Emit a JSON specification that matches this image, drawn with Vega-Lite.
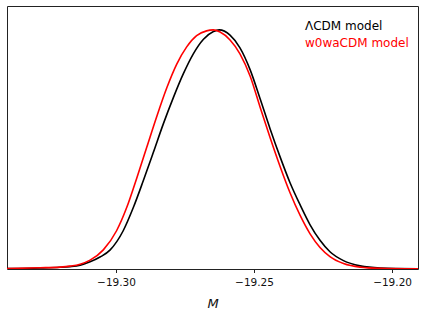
{
  "$schema": "https://vega.github.io/schema/vega-lite/v6.json",
  "width": 411,
  "height": 263,
  "autosize": "none",
  "padding": {"left": 7, "top": 6, "right": 6, "bottom": 47},
  "background": "white",
  "config": {
    "view": {"stroke": "#222222", "strokeWidth": 1},
    "font": "DejaVu Sans"
  },
  "data": {
    "values": [
      {"M": -19.3395, "P": 0.002, "model": "ΛCDM model"},
      {"M": -19.3275, "P": 0.004, "model": "ΛCDM model"},
      {"M": -19.3203, "P": 0.007, "model": "ΛCDM model"},
      {"M": -19.3167, "P": 0.010, "model": "ΛCDM model"},
      {"M": -19.3130, "P": 0.016, "model": "ΛCDM model"},
      {"M": -19.3094, "P": 0.030, "model": "ΛCDM model"},
      {"M": -19.3058, "P": 0.050, "model": "ΛCDM model"},
      {"M": -19.3022, "P": 0.079, "model": "ΛCDM model"},
      {"M": -19.2974, "P": 0.160, "model": "ΛCDM model"},
      {"M": -19.2937, "P": 0.258, "model": "ΛCDM model"},
      {"M": -19.2901, "P": 0.370, "model": "ΛCDM model"},
      {"M": -19.2865, "P": 0.487, "model": "ΛCDM model"},
      {"M": -19.2829, "P": 0.606, "model": "ΛCDM model"},
      {"M": -19.2792, "P": 0.718, "model": "ΛCDM model"},
      {"M": -19.2756, "P": 0.817, "model": "ΛCDM model"},
      {"M": -19.2720, "P": 0.900, "model": "ΛCDM model"},
      {"M": -19.2684, "P": 0.960, "model": "ΛCDM model"},
      {"M": -19.2647, "P": 0.993, "model": "ΛCDM model"},
      {"M": -19.2626, "P": 1.0, "model": "ΛCDM model"},
      {"M": -19.2587, "P": 0.978, "model": "ΛCDM model"},
      {"M": -19.2551, "P": 0.925, "model": "ΛCDM model"},
      {"M": -19.2514, "P": 0.833, "model": "ΛCDM model"},
      {"M": -19.2478, "P": 0.712, "model": "ΛCDM model"},
      {"M": -19.2442, "P": 0.587, "model": "ΛCDM model"},
      {"M": -19.2406, "P": 0.470, "model": "ΛCDM model"},
      {"M": -19.2370, "P": 0.362, "model": "ΛCDM model"},
      {"M": -19.2333, "P": 0.268, "model": "ΛCDM model"},
      {"M": -19.2297, "P": 0.185, "model": "ΛCDM model"},
      {"M": -19.2261, "P": 0.120, "model": "ΛCDM model"},
      {"M": -19.2225, "P": 0.072, "model": "ΛCDM model"},
      {"M": -19.2176, "P": 0.035, "model": "ΛCDM model"},
      {"M": -19.2116, "P": 0.013, "model": "ΛCDM model"},
      {"M": -19.2043, "P": 0.004, "model": "ΛCDM model"},
      {"M": -19.1906, "P": 0.001, "model": "ΛCDM model"},
      {"M": -19.3395, "P": 0.002, "model": "w0waCDM model"},
      {"M": -19.3275, "P": 0.005, "model": "w0waCDM model"},
      {"M": -19.3203, "P": 0.008, "model": "w0waCDM model"},
      {"M": -19.3167, "P": 0.012, "model": "w0waCDM model"},
      {"M": -19.3130, "P": 0.020, "model": "w0waCDM model"},
      {"M": -19.3094, "P": 0.037, "model": "w0waCDM model"},
      {"M": -19.3046, "P": 0.080, "model": "w0waCDM model"},
      {"M": -19.2998, "P": 0.160, "model": "w0waCDM model"},
      {"M": -19.2961, "P": 0.258, "model": "w0waCDM model"},
      {"M": -19.2925, "P": 0.380, "model": "w0waCDM model"},
      {"M": -19.2889, "P": 0.508, "model": "w0waCDM model"},
      {"M": -19.2853, "P": 0.636, "model": "w0waCDM model"},
      {"M": -19.2816, "P": 0.758, "model": "w0waCDM model"},
      {"M": -19.2780, "P": 0.857, "model": "w0waCDM model"},
      {"M": -19.2744, "P": 0.929, "model": "w0waCDM model"},
      {"M": -19.2708, "P": 0.976, "model": "w0waCDM model"},
      {"M": -19.2672, "P": 0.996, "model": "w0waCDM model"},
      {"M": -19.2648, "P": 1.0, "model": "w0waCDM model"},
      {"M": -19.2623, "P": 0.991, "model": "w0waCDM model"},
      {"M": -19.2587, "P": 0.958, "model": "w0waCDM model"},
      {"M": -19.2551, "P": 0.900, "model": "w0waCDM model"},
      {"M": -19.2514, "P": 0.806, "model": "w0waCDM model"},
      {"M": -19.2478, "P": 0.677, "model": "w0waCDM model"},
      {"M": -19.2442, "P": 0.550, "model": "w0waCDM model"},
      {"M": -19.2406, "P": 0.430, "model": "w0waCDM model"},
      {"M": -19.2370, "P": 0.320, "model": "w0waCDM model"},
      {"M": -19.2333, "P": 0.224, "model": "w0waCDM model"},
      {"M": -19.2297, "P": 0.147, "model": "w0waCDM model"},
      {"M": -19.2261, "P": 0.090, "model": "w0waCDM model"},
      {"M": -19.2225, "P": 0.052, "model": "w0waCDM model"},
      {"M": -19.2176, "P": 0.023, "model": "w0waCDM model"},
      {"M": -19.2116, "P": 0.008, "model": "w0waCDM model"},
      {"M": -19.2043, "P": 0.003, "model": "w0waCDM model"},
      {"M": -19.1906, "P": 0.001, "model": "w0waCDM model"}
    ]
  },
  "mark": {"type": "line", "interpolate": "monotone", "strokeWidth": 1.6, "clip": true},
  "encoding": {
    "x": {
      "field": "M",
      "type": "quantitative",
      "scale": {"domain": [-19.3395, -19.1906], "nice": false, "zero": false},
      "axis": {
        "values": [-19.30, -19.25, -19.20],
        "format": ".2f",
        "grid": false,
        "domain": false,
        "tickColor": "#222222",
        "tickSize": 3.5,
        "labelFontSize": 10.5,
        "labelColor": "#111111",
        "labelPadding": 5,
        "title": "M",
        "titleFontSize": 13,
        "titleFontStyle": "italic",
        "titleFontWeight": "normal",
        "titleColor": "#111111",
        "titlePadding": 9
      }
    },
    "y": {
      "field": "P",
      "type": "quantitative",
      "scale": {"domain": [0, 1.1], "nice": false},
      "axis": null
    },
    "color": {
      "field": "model",
      "type": "nominal",
      "scale": {"domain": ["ΛCDM model", "w0waCDM model"], "range": ["black", "red"]},
      "legend": {
        "title": null,
        "orient": "none",
        "legendX": 286,
        "legendY": 14,
        "padding": 0,
        "symbolSize": 0,
        "symbolStrokeWidth": 0,
        "symbolOpacity": 0,
        "labelOffset": 0,
        "labelFontSize": 12,
        "rowPadding": 5,
        "encode": {
          "labels": {
            "update": {
              "fill": {"signal": "datum.label === 'ΛCDM model' ? 'black' : 'red'"}
            }
          }
        }
      }
    }
  }
}
